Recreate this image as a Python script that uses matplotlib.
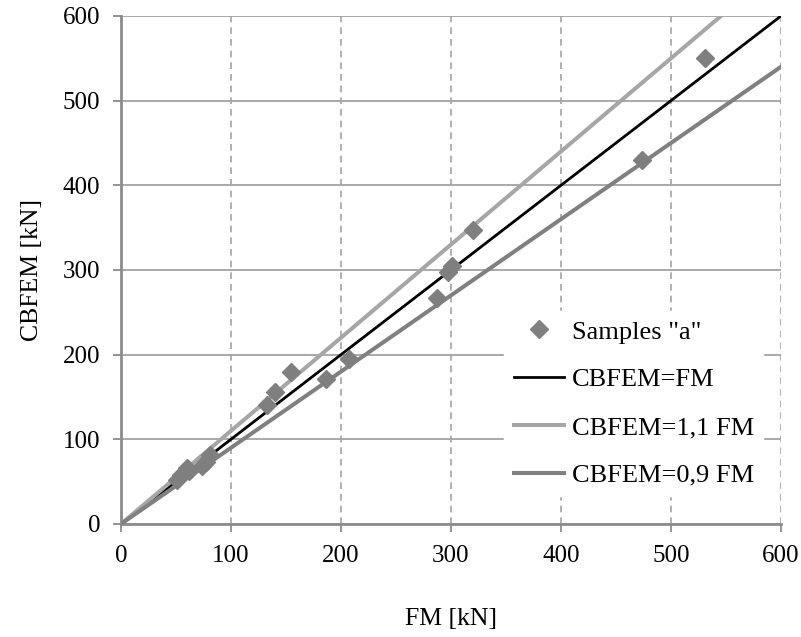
import numpy as np
import matplotlib
matplotlib.use('Agg')
import matplotlib.pyplot as plt

plt.rcParams['font.family'] = ['Liberation Serif', 'DejaVu Serif']

# samples "a"
fm = [51, 55, 60, 62, 74, 77, 81, 133, 140, 155, 186, 207, 287, 297, 301, 320, 474, 531]
cbfem = [52, 58, 66, 63, 68, 73, 81, 141, 156, 180, 171, 195, 267, 298, 305, 347, 430, 550]

line_x = np.array([0, 600])
ratios = [1.0, 1.1, 0.9]
line_labels = ['CBFEM=FM', 'CBFEM=1,1 FM', 'CBFEM=0,9 FM']
line_colors = ['#000000', '#a6a6a6', '#808080']
line_widths = [2.0, 2.9, 2.9]

ticks = [0, 100, 200, 300, 400, 500, 600]
grid_c = '#a3a3a3'

fig = plt.figure(figsize=(8.01, 6.37), dpi=100)
ax = fig.add_axes([0.151, 0.1774, 0.824, 0.7975])

ax.plot(fm, cbfem, linestyle='none', marker='D', ms=9.2, color='#7f7f7f',
        label='Samples "a"', zorder=4)
for r, lab, c, w in zip(ratios, line_labels, line_colors, line_widths):
    ax.plot(line_x, r * line_x, color=c, lw=w, label=lab, zorder=3)

ax.set_xlim(0, 600)
ax.set_ylim(0, 600)
ax.set_xticks(ticks)
ax.set_yticks(ticks)

ax.yaxis.grid(True, color=grid_c, lw=1.3, ls='-')
ax.xaxis.grid(True, color=grid_c, lw=1.2, ls=(0, (4, 3)))
ax.set_axisbelow(True)

for s in ['top', 'right']:
    ax.spines[s].set_visible(False)
for s in ['left', 'bottom']:
    ax.spines[s].set_color('#8c8c8c')
    ax.spines[s].set_linewidth(2)

ax.tick_params(direction='out', length=6, width=1.3, color='#8c8c8c',
               labelsize=18, pad=9)

ax.set_xlabel('FM [kN]', fontsize=18.5, labelpad=30)
ax.set_ylabel('CBFEM [kN]', fontsize=18.5, labelpad=14)

leg = ax.legend(loc='lower right', bbox_to_anchor=(0.973, 0.055), fontsize=19,
                frameon=True, fancybox=False, handlelength=1.9, handletextpad=0.3,
                labelspacing=0.92, borderpad=0.35, borderaxespad=0)
leg.get_frame().set_facecolor('white')
leg.get_frame().set_edgecolor('white')
leg.get_frame().set_alpha(1)
leg.set_zorder(5)

fig.savefig('out.png', dpi=100)
